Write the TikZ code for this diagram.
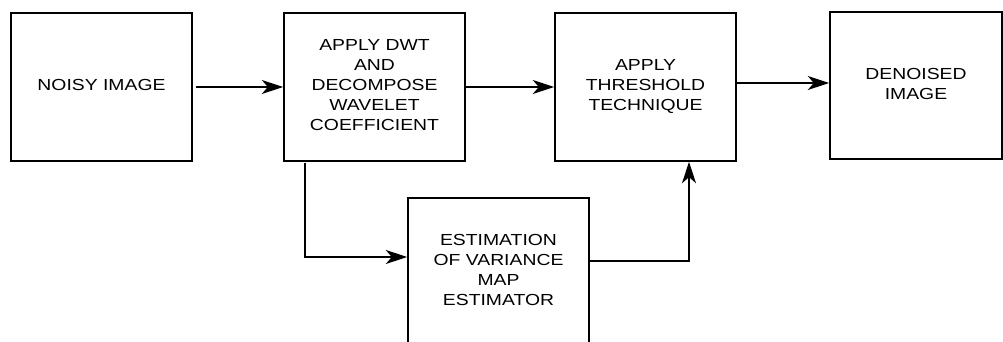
\documentclass[tikz,border=0pt]{standalone}
\usepackage{fontspec}
\setmainfont{Liberation Sans}
\usetikzlibrary{arrows.meta}
% wide lettering used inside every block
\newcommand{\blocktext}[1]{\scalebox{1.21}[1]{\begin{tabular}{@{}c@{}}#1\end{tabular}}}
\tikzset{
  blk/.style={draw=black, line width=1.3pt, fill=white, inner sep=0pt,
    minimum width=135.75pt, minimum height=111pt, align=center,
    font=\fontsize{12}{15}\selectfont},
  flow/.style={line width=1.3pt, -{Stealth[length=16pt,width=10.5pt,inset=4.5pt]}},
}
\begin{document}
\begin{tikzpicture}[x=0.75pt,y=-0.75pt]
  \clip (0,0) rectangle (1003,342);
  \fill[white] (0,0) rectangle (1003,342);

  \node[blk] (noisy) at (101.5,87) {\blocktext{NOISY IMAGE}};
  \node[blk] (dwt) at (374.5,87) {\blocktext{APPLY DWT\\AND\\DECOMPOSE\\WAVELET\\COEFFICIENT}};
  \node[blk] (thr) at (645.5,87) {\blocktext{APPLY\\THRESHOLD\\TECHNIQUE}};
  \node[blk, minimum width=129pt, minimum height=110.25pt] (den) at (916,85.5) {\blocktext{DENOISED\\IMAGE}};
  \node[blk, minimum height=109.5pt] (est) at (498.5,271) {\blocktext{ESTIMATION\\OF VARIANCE\\MAP\\ESTIMATOR}};

  % main chain
  \draw[flow] ([xshift=2pt]noisy.east) -- (dwt.west);
  \draw[flow] (dwt.east) -- (thr.west);
  \draw[flow] ([yshift=3pt]thr.east) -- ([yshift=3pt]den.west |- thr.east);

  % branch through the variance estimator
  \coordinate (dwtdrop) at (305,163);
  \coordinate (estin) at (305,257);
  \coordinate (estout) at (589,261);
  \coordinate (thrin) at (689,261);
  \draw[flow] (dwtdrop) -- (estin) -- (estin -| est.west);
  \draw[flow] (estout) -- (thrin) -- (thrin |- thr.south);
\end{tikzpicture}
\end{document}
